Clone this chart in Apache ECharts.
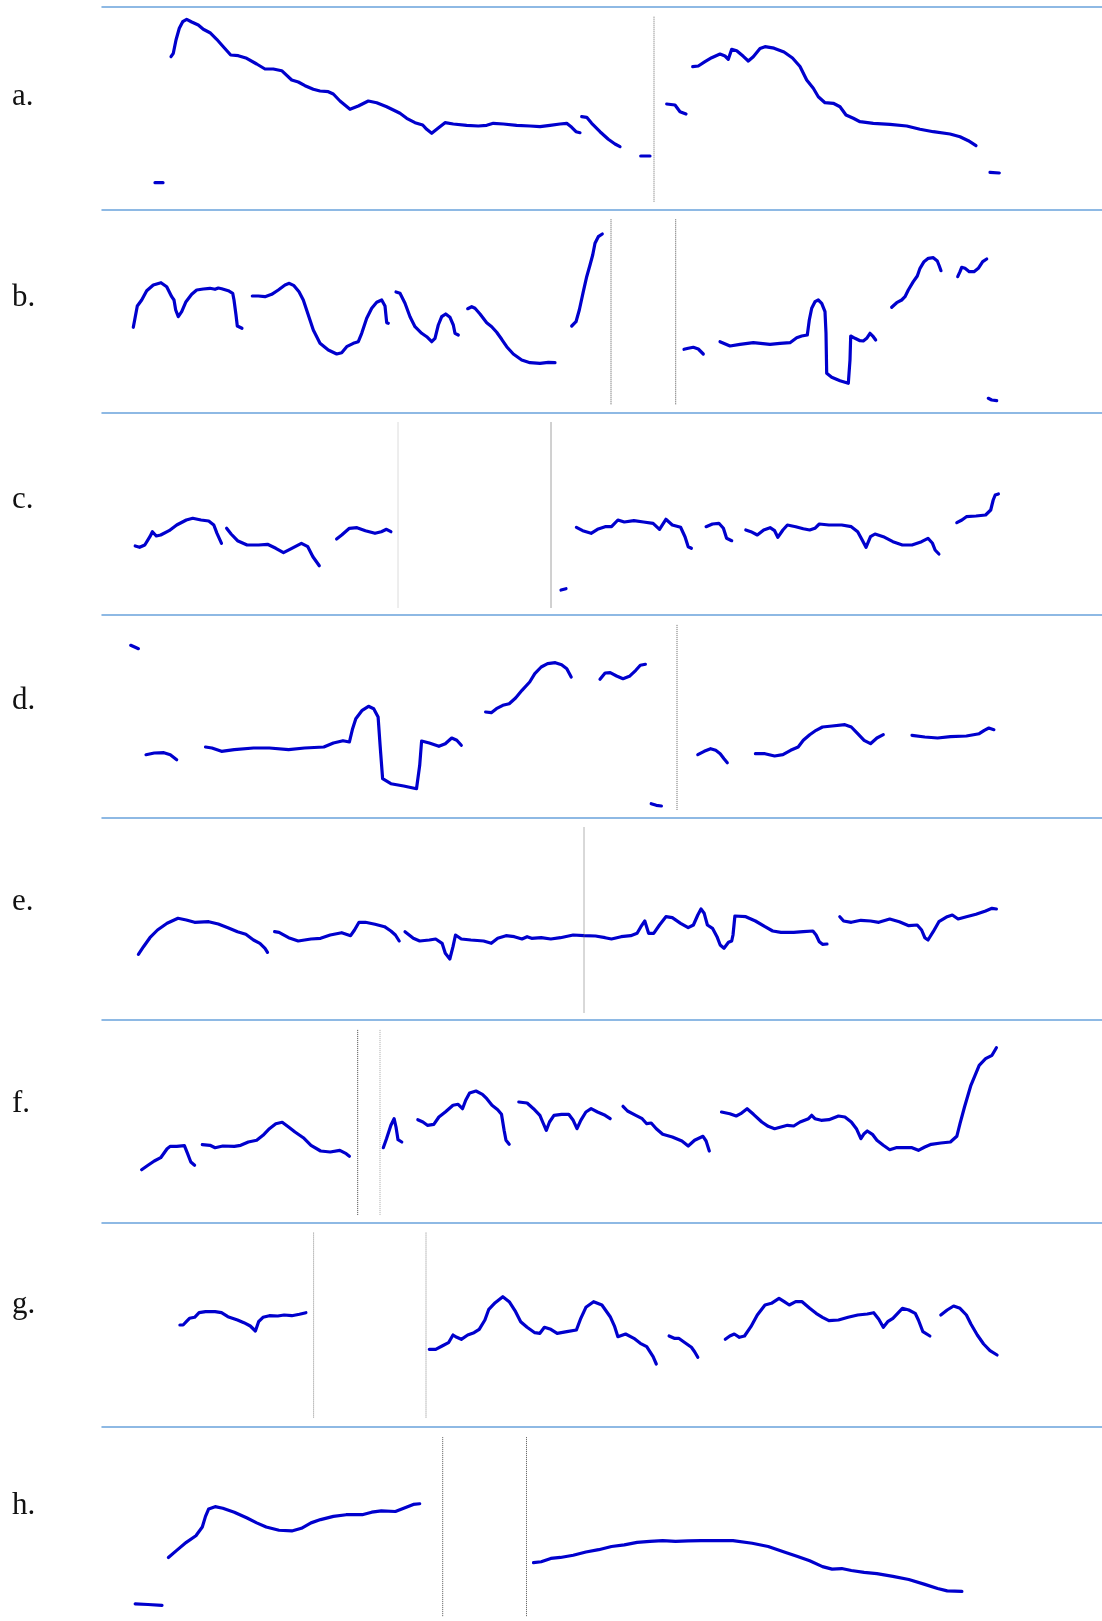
<!DOCTYPE html>
<html><head><meta charset="utf-8">
<script src="https://cdn.jsdelivr.net/npm/echarts@6/dist/echarts.min.js"></script>
<style>html,body{margin:0;padding:0;background:#fff}#c{width:1102px;height:1621px}</style>
</head><body><div id="c"></div>
<script>
// Panel labels
const labels = ['a.','b.','c.','d.','e.','f.','g.','h.'];
// Each contour: [time, pitch] pairs (time axis 0..1000, pitch axis 0..200)
const a1 = [[53,24],[61,24]];
const a2 = [[69,150],[71.3,153.4],[74,166.7],[77.3,178.4],[80.7,185],[84.7,187.4],[89.7,184.7],[96.3,181.7],[101.3,177.4],[108,174],[114.7,167.4],[121.3,160],[128.7,151.7],[136.3,151],[144.7,148.4],[154.7,142.7],[163,137.7],[171.3,137.7],[179.7,136],[189.7,126.7],[196.3,124.7],[203,121],[211.3,117.4],[218,115.7],[226.3,115],[231.3,112.7],[238,105.7],[248,97.4],[256.3,100.7],[266.3,105.7],[274.7,104],[284.7,100],[298,93.4],[304.7,88.4],[313,84],[320.7,81.7],[324.7,77.4],[329.7,73.4],[334.7,77.4],[343,84],[351.3,82.7],[364.7,81.4],[376.3,80.7],[384.7,81.4],[391.3,83.4],[401.3,82.7],[414.7,81.4],[428,80.7],[438,80],[448,81.4],[458,82.7],[464.7,83.4],[469.7,79.4],[474,75],[478,74]];
const a3 = [[479.7,90],[484.7,89.4],[489.7,83.4],[498,75],[506.3,67.4],[513,62.7],[518,60]];
const a4 = [[538.7,50.7],[548,50.7]];
const a5 = [[564.7,102.7],[573,101.7],[578,95],[584,92.7]];
const a6 = [[590.7,140],[596.3,140.7],[603,145],[609.7,149],[618,152.7],[623,150.7],[626.3,147.4],[629.7,157.4],[634.7,156],[641.3,150.4],[646.3,145.7],[651.3,150],[658,158.2],[663,160],[672,158.5],[682,154.7],[690.5,148.7],[698,140.2],[704.7,126.7],[711.3,118.4],[716.3,110],[723,104],[731.3,103.4],[738,100],[744,91.7],[751.3,88.4],[758,85],[771.3,83.4],[788,82.4],[804.7,80.7],[818,77.4],[831.3,75],[848,72.7],[858,70],[866.3,66],[874,61]];
const a7 = [[888,34.4],[897.3,33.7]];

const b1 = [[31.3,82],[33,91],[35.3,103.3],[39.7,109.3],[44.7,118.6],[51.3,124.3],[59,126.6],[64.7,122.6],[69.7,112.6],[72,109.3],[73.7,99.3],[76.3,92.6],[79.7,97.6],[84,107.6],[89.7,115],[94.7,119.3],[101.3,120.3],[108,121],[113,120],[116.3,121.3],[119.7,120.6],[126.3,118.6],[130.7,116],[132,109.3],[134,94.3],[135.3,83.3],[137.3,81.6],[140,81]];
const b2 = [[150.3,113.3],[156.3,113.3],[163,112.6],[169.7,115],[176.3,119.3],[183,124.3],[187.3,126],[192,123.6],[197,117.6],[201.3,109.3],[206.3,94.3],[211.3,79.3],[218,66],[226.3,59.3],[234.7,55.3],[239.7,56.6],[244.7,62.6],[251.3,66],[256.3,67.6],[259.7,76],[264.7,91],[269.7,101],[274.7,107],[279.7,109.3],[283,103.3],[284.7,86.6],[286.3,86]];
const b3 = [[294,117.3],[298,116],[303,106],[308,92.6],[313,82.6],[319.7,76],[324.7,72.6],[329.7,67.6],[333,71],[336.3,84.3],[339.7,92.6],[343.7,95.3],[348,92],[351.3,84.3],[353,76],[356.3,74.3]];
const b4 = [[365.7,100.6],[369.7,102.6],[373,101],[378,95.3],[384.7,86.6],[389.7,82.6],[394.7,77],[399.7,70],[404.7,62.6],[411.3,55.3],[419.7,49.3],[428,46.6],[438,46],[446.3,47],[453,46.6]];
const b5 = [[469.7,83.3],[474,87.6],[477.3,99.3],[481.3,117.6],[484.7,132.6],[488,144.3],[490.7,154.3],[493,166],[496.3,172.6],[500.3,175.3]];
const b6 = [[582,60],[586.3,61],[591.3,62],[596.3,60.3],[601.3,55.3]];
const b7 = [[618,67.6],[628,63.3],[638,65],[651.3,66.6],[668,65],[678,66],[688,66.6],[694.7,71.6],[699.7,73.3],[705.3,74.3],[707.3,89.3],[709.7,101],[713,107.6],[716.3,109.3],[719.7,106],[723,97.6],[724,76],[724.7,36],[729.7,32],[738,28.6],[746.3,26],[748,49.3],[748.7,73.3],[753,71],[758,68.6],[761.3,68.3],[764.7,71],[768,76],[771.3,72.6],[773.7,69.3]];
const b8 = [[789.7,102],[794.7,106.6],[799.7,109.3],[803,112.6],[806.3,119.3],[811.3,127.6],[815.3,133.3],[818,141],[822,147.6],[826.3,151],[831.3,151.6],[835.3,148.3],[837.3,143.3],[839,138.6]];
const b9 = [[855.7,132.6],[858,137.6],[859.7,142],[863,141],[867.3,137.6],[872,137.6],[876.3,141],[880.7,147.6],[884.7,150.3]];
const b10 = [[886.3,11],[889.7,9.3],[894.7,8.6]];

const c1 = [[33.2,66.5],[37.6,65.2],[42.8,67.5],[47.9,75.8],[50.4,80.8],[54.3,76.5],[58.7,77.5],[67.1,81.8],[74.7,87.5],[84.3,92.5],[90.7,94.2],[99,92.5],[106.7,91.5],[111.8,87.5],[115,79.2],[119.5,69.2]];
const c2 = [[124.6,84.2],[129.1,78.5],[135.5,71.8],[145.1,67.5],[156.6,67.5],[165.5,68.2],[173.8,64.2],[181.5,59.8],[189.8,64.2],[199.4,69.2],[205.8,65.8],[210.9,55.8],[217.3,46.8]];
const c3 = [[234.6,73.5],[239.7,77.5],[247.4,84.2],[255,84.8],[263.4,81.8],[273,79.2],[279.3,80.8],[284.5,83.2],[288.9,80.8]];
const c4 = [[459,22.5],[464,23.8]];
const c5 = [[474.4,85.2],[480.7,81.8],[489.1,79.2],[495.5,83.2],[503.1,85.8],[509.5,85.8],[515.9,92.5],[522.3,90.5],[531.9,91.8],[541.5,90.5],[551.1,89.2],[557.5,83.2],[563.9,93.2],[570.3,87.5],[578.6,85.2],[583,75.8],[586.2,65.8],[589.4,64.2]];
const c6 = [[604.1,85.8],[610.5,88.5],[616.9,89.2],[621.4,84.2],[624.6,74.2],[629.7,71.8]];
const c7 = [[643.8,82.5],[648.9,80.8],[655.3,77.5],[661.7,82.5],[668.1,84.8],[672.6,81.8],[675.8,75.2],[680.9,82.5],[685.4,87.5],[693.7,85.8],[701.3,83.8],[707.7,82.5],[712.9,84.2],[717.3,88.5],[726.9,87.5],[739.7,87.5],[749.3,85.8],[755.7,80.8],[760.2,72.5],[764,65.2],[768.5,75.8],[773,78.5],[781.3,75.8],[790.9,70.8],[800.4,67.5],[810,67.5],[819.6,70.8],[826,74.2],[830.5,69.2],[833.1,62.5],[836.9,58.5]];
const c8 = [[854.8,89.8],[859.9,92.5],[864.4,95.8],[874,96.5],[883.6,97.5],[888.7,102.5],[891.2,112.5],[893.2,117.5],[896.4,118.5]];

const d1 = [[28.7,169.6],[33.2,167.6],[36.4,166.2]];
const d2 = [[44,60.2],[52.3,61.9],[61.9,62.2],[68.3,60.2],[74.7,55.2]];
const d3 = [[103.5,67.9],[109.9,66.9],[119.5,63.6],[132.3,65.2],[151.5,66.9],[167.4,66.9],[186.6,65.2],[202.6,66.9],[221.8,67.9],[231.4,71.9],[241,74.2],[247.4,72.9],[250.6,86.2],[253.8,96.2],[260.2,104.6],[266.5,108.6],[271.7,106.2],[276.1,97.9],[278.1,69.6],[280.6,36.2],[288.9,31.2],[301.7,28.9],[314.5,26.2],[317.7,49.6],[319.6,73.9],[327.3,71.9],[336.9,68.6],[343.3,71.2],[349.7,76.9],[354.8,74.6],[359.3,69.6]];
const d4 = [[383.6,102.9],[389.3,102.2],[394.4,106.2],[400.8,109.6],[407.2,111.2],[413.6,116.9],[420,124.6],[427.7,132.9],[432.8,141.2],[439.2,147.9],[445.6,151.2],[453.3,152.2],[459.6,150.2],[464.8,146.2],[469.2,137.9]];
const d5 = [[498,135.6],[503.1,141.9],[508.2,142.2],[514.6,138.9],[521,136.2],[527.4,138.6],[533.8,144.6],[538.3,149.6],[543.4,150.6]];
const d6 = [[549.2,11.2],[554.3,9.6],[559.4,8.9]];
const d7 = [[595.8,60.2],[602.2,63.6],[608.6,66.2],[613.7,64.6],[618.2,61.2],[622,56.2],[625.3,52.2]];
const d8 = [[653.4,61.2],[663,61.2],[672.6,58.9],[680.9,60.2],[688.6,64.6],[696.2,67.9],[701.3,74.6],[707.7,80.2],[714.1,84.6],[720.5,87.9],[730.1,88.9],[742.9,90.2],[749.3,87.9],[755.7,81.2],[762.1,74.6],[768.5,71.2],[774.9,76.9],[781.3,80.2]];
const d9 = [[810,79.6],[822.8,77.9],[835.6,76.9],[848.4,78.2],[864.4,78.9],[877.2,81.2],[882.3,84.6],[886.8,86.9],[891.9,85.2]];

const e1 = [[36.4,63.2],[41.5,70.8],[47.9,79.8],[55.5,87.5],[65.1,94.2],[76,99.2],[84.3,97.5],[92.6,95.2],[106.7,95.8],[116.3,93.5],[125.9,89.8],[135.5,85.8],[143.8,83.2],[151.5,77.5],[157.9,74.2],[163,69.2],[165.5,65.2]];
const e2 = [[172.6,85.8],[177,85.2],[186.6,79.8],[196.2,76.5],[209,78.5],[218.6,79.2],[228.2,82.5],[239.7,84.8],[248.6,81.8],[252.5,87.5],[257,95.2],[263.4,95.2],[273,93.2],[282.5,90.8],[288.9,86.5],[293.4,82.5],[297.2,76.5]];
const e3 = [[303,85.8],[311.3,79.2],[317.7,76.5],[327.3,77.5],[333.7,78.5],[340.1,74.2],[343.3,64.2],[347.8,58.5],[351,70.8],[353.5,82.5],[359.3,78.5],[368.9,77.5],[381.6,76.5],[389.3,74.2],[395.7,79.2],[404,81.8],[412.3,80.8],[420,78.5],[425.1,80.8],[429.6,79.2],[439.2,79.8],[448.8,78.5],[458.4,79.8],[471.2,82.5],[482,81.8],[493.5,81.5],[503.1,79.8],[509.5,78.5],[519.1,80.8],[528.7,81.8],[535.1,84.2],[538.9,90.8],[542.8,96.5],[546.6,84.2],[551.7,84.2],[557.5,92.5],[563.9,100.8],[570.3,99.8],[578.6,94.2],[586.2,89.8],[591.4,92.5],[595.8,102.5],[599,108.5],[602.2,104.2],[605.4,92.5],[610.5,89.2],[615,80.8],[618.2,72.5],[622,69.2],[626.5,75.2],[629.7,76.5],[631,82.5],[632.9,101.5],[643.8,100.8],[653.4,96.5],[663,90.8],[670.7,86.5],[679,85.2],[691.7,85.2],[701.3,85.8],[710.9,86.5],[714.1,82.5],[717.3,75.8],[720.5,73.2],[725,73.5]];
const e4 = [[737.8,100.8],[741.6,96.5],[749.3,95.2],[758.9,97.2],[768.5,96.5],[776.8,95.2],[787.7,98.5],[797.3,95.8],[806.8,91.8],[815.2,92.5],[819.6,87.5],[822.8,79.8],[826,77.5],[831.2,85.8],[836.9,95.8],[845.2,100.8],[850.3,102.5],[856.1,98.5],[864.4,100.8],[874,103.2],[883.6,106.5],[890,109.2],[894.4,108.5]];

const f1 = [[39.6,50.2],[46,54.6],[52.3,58.9],[58.7,62.2],[65.1,71.2],[68.3,73.6],[74.7,73.6],[82.4,74.2],[85.6,66.2],[88.8,57.9],[92.6,54.6]];
const f2 = [[100.3,75.2],[108,74.6],[113.1,72.2],[120.8,73.9],[132.3,73.6],[138.7,74.6],[146.3,77.9],[154.7,79.6],[161,84.6],[167.4,91.2],[173.8,96.2],[180.2,97.6],[186.6,92.9],[193,87.9],[201.3,82.2],[209,74.6],[218.6,68.9],[228.2,67.9],[237.8,69.6],[244.2,66.2],[247.4,63.6]];
const f3 = [[281.3,72.2],[284.5,81.2],[288.9,94.6],[292.1,101.2],[294,92.9],[296,80.2],[299.8,77.9]];
const f4 = [[315.8,100.2],[320.9,97.9],[325.4,94.6],[331.8,95.6],[336.9,102.9],[343.3,107.9],[351,114.6],[356.1,115.6],[360.5,111.2],[363.7,119.6],[367.6,126.9],[374,128.9],[380.4,125.6],[384.8,121.2],[390,114.6],[395.7,110.2],[399.5,105.6],[402.1,89.6],[404,79.6],[407.2,75.6]];
const f5 = [[416.8,117.9],[425.1,116.9],[431.5,111.2],[437.9,104.6],[441.1,96.9],[444.3,89.6],[447.5,97.9],[452,104.6],[459.6,105.6],[466.7,105.6],[471.2,99.6],[475,91.2],[478.8,99.6],[483.9,107.9],[489.1,111.2],[495.5,107.9],[503.1,104.6],[508.2,101.2]];
const f6 = [[521,113.6],[525.5,108.9],[533.8,104.6],[540.2,101.2],[544.7,96.2],[549.2,96.9],[554.3,91.2],[560.7,85.6],[570.3,82.9],[579.9,78.9],[586.2,73.9],[592.6,79.6],[601,83.6],[604.1,78.9],[607.3,68.9]];
const f7 = [[619.5,107.9],[627.8,106.2],[634.2,103.9],[638.7,106.2],[645.1,111.2],[651.5,105.6],[659.8,97.9],[666.2,93.6],[672.6,91.2],[679,92.9],[685.4,94.6],[691.7,93.9],[698.1,97.9],[706.5,101.2],[709.7,104.6],[712.9,101.2],[719.2,99.6],[726.9,100.2],[736.5,103.9],[742.9,102.9],[749.3,97.9],[754.4,91.2],[758.9,81.2],[762.1,86.2],[765.3,88.9],[770.4,85.6],[774.9,79.6],[781.3,74.6],[787.7,70.2],[794.1,72.2],[802.4,72.2],[810,72.2],[816.4,69.6],[822.8,72.9],[829.2,75.6],[838.8,76.9],[848.4,77.9],[854.8,83.6],[858,96.2],[862.5,112.9],[868.9,134.6],[877.2,154.6],[883.6,161.2],[890,164.6],[894.4,172.2]];

const g1 = [[77.9,97.6],[81.1,97.6],[84.3,100.9],[87.5,104.3],[92.6,105.3],[97.1,109.9],[103.5,110.9],[113.1,110.9],[119.5,109.9],[125.9,105.9],[135.5,102.6],[141.9,99.9],[148.3,96.6],[153.4,91.6],[156.6,100.9],[161,105.3],[167.4,106.9],[175.8,106.6],[182.1,107.6],[189.8,106.9],[197.5,108.3],[203.9,109.9]];
const g2 = [[327.3,73.3],[333.7,73.3],[340.1,76.6],[346.5,79.9],[351,87.6],[354.8,85.3],[359.3,83.3],[365.7,87.6],[372,89.9],[377.2,93.3],[382.9,102.6],[386.8,113.3],[393.2,119.9],[400.8,125.9],[407.2,120.9],[413.6,110.9],[418.7,100.9],[425.1,95.3],[432.8,89.9],[437.9,89.3],[442.4,95.3],[448.8,93.3],[455.2,89.3],[464.8,90.9],[474.4,92.6],[478.8,104.3],[483.9,115.3],[491.6,120.9],[499.9,117.6],[508.2,105.9],[512.7,95.9],[515.9,85.9],[523.6,88.6],[531.9,84.3],[538.3,79.3],[544.7,75.9],[551.1,65.9],[554.3,58.6]];
const g3 = [[567.1,86.6],[572.2,84.3],[576.7,84.3],[583,79.9],[589.4,75.3],[592.6,70.9],[595.8,65.3]];
const g4 = [[623.3,83.3],[627.8,86.6],[632.3,88.6],[637.4,85.3],[642.5,86.6],[648.9,95.9],[655.3,107.6],[663,117.6],[669.4,119.3],[677,124.3],[682.2,120.9],[687.3,117.6],[693.7,120.9],[700.1,120.9],[707.7,114.3],[714.1,109.3],[720.5,105.3],[726.9,101.9],[736.5,102.6],[746.1,105.3],[755.7,107.6],[765.3,108.6],[771.7,109.9],[776.8,103.3],[781.3,95.3],[785.7,100.9],[790.9,104.3],[800.4,114.3],[806.8,112.6],[813.2,109.3],[816.4,102.6],[820.9,90.9],[827.9,86.6]];
const g5 = [[838.8,107.6],[845.2,112.6],[851.6,116.6],[858,114.3],[864.4,107.6],[868.9,98.6],[875.3,87.6],[881.6,78.6],[888,71.9],[895.1,67.6]];

const h1 = [[33.2,17.7],[46,17],[60,16]];
const h2 = [[66.4,65.4],[74.7,72.7],[84.3,81],[93.9,87.7],[100.3,96.7],[103.5,107.7],[106.7,115.4],[113.1,117.7],[120.8,116],[132.3,112],[145.1,106],[154.7,101],[164.2,96.7],[177,93.4],[189.8,92.7],[199.4,95.4],[209,101],[218.6,104.4],[231.4,107.7],[244.2,109.4],[260.2,109.4],[269.7,112],[279.3,113.4],[293.4,112.7],[301.7,116],[311.3,120],[317.7,120.7]];
const h3 = [[431.5,60],[439.2,61],[448.8,64.4],[458.4,65.4],[471.2,67.7],[483.9,71],[496.7,73.4],[509.5,76.7],[522.3,78.4],[535.1,81],[547.9,82],[560.7,82.7],[573.5,82],[586.2,82.4],[599,82.7],[611.8,82.7],[631,82.7],[650.2,80],[666.2,76.7],[682.2,71],[694.9,66.7],[707.7,62],[720.5,56],[730.1,53.4],[739.7,54],[749.3,52],[762.1,50],[774.9,48.7],[790.9,46],[806.8,42.7],[822.8,37.7],[835.6,33.4],[845.2,31],[859.9,30.4]];

const contours = [
  [a1,a2,a3,a4,a5,a6,a7],
  [b1,b2,b3,b4,b5,b6,b7,b8,b9,b10],
  [c1,c2,c3,c4,c5,c6,c7,c8],
  [d1,d2,d3,d4,d5,d6,d7,d8,d9],
  [e1,e2,e3,e4],
  [f1,f2,f3,f4,f5,f6,f7],
  [g1,g2,g3,g4,g5],
  [h1,h2,h3]
];
// Boundary markers (time positions) per panel
const boundaries = [[552],[509,573.7],[296,449],[575],[482],[255.7,278],[211.6,324],[340.7,424.5]];
const boundaryRange = [5,190];

// ---- styles / layout ----
const panelTops = [6.7,209.3,412.5,614.9,817.5,1019.9,1222.6,1426.7];
const boundaryColors = [['#6e6e6e'],['#555','#555'],['#b8b8b8','#444'],['#666'],['#666'],['#444','#a8a8a8'],['#8a8a8a','#8a8a8a'],['#555','#555']];
const LINE = '#0000cd';

const grid=[], xAxis=[], yAxis=[], series=[], graphic=[];
panelTops.forEach((top,i)=>{
  grid.push({left:102, top:top, width:1000, height:200});
  xAxis.push({gridIndex:i, type:'value', min:0, max:1000, position:'top',
    axisLine:{show:true, onZero:false, lineStyle:{color:'#6aa3dc', width:1.5}},
    axisTick:{show:false}, axisLabel:{show:false}, splitLine:{show:false}});
  yAxis.push({gridIndex:i, type:'value', min:0, max:200, show:false, splitLine:{show:false}});
  contours[i].forEach(seg=>{
    series.push({type:'line', xAxisIndex:i, yAxisIndex:i, data:seg, symbol:'none', silent:true,
      lineStyle:{color:LINE, width:3.2, cap:'round', join:'round'}});
  });
  boundaries[i].forEach((t,k)=>{
    series.push({type:'line', xAxisIndex:i, yAxisIndex:i, data:[[t,boundaryRange[0]],[t,boundaryRange[1]]],
      symbol:'none', silent:true, lineStyle:{color:boundaryColors[i][k], width:1, type:[1,1]}});
  });
  graphic.push({type:'text', x:12, y:97+i*201.3, silent:true,
    style:{text:labels[i], fill:'#111', font:'31px "Liberation Serif", "Times New Roman", serif', verticalAlign:'middle'}});
});

const chart = echarts.init(document.getElementById('c'));
chart.setOption({animation:false, backgroundColor:'#fff', grid, xAxis, yAxis, series, graphic});
</script>
</body></html>
